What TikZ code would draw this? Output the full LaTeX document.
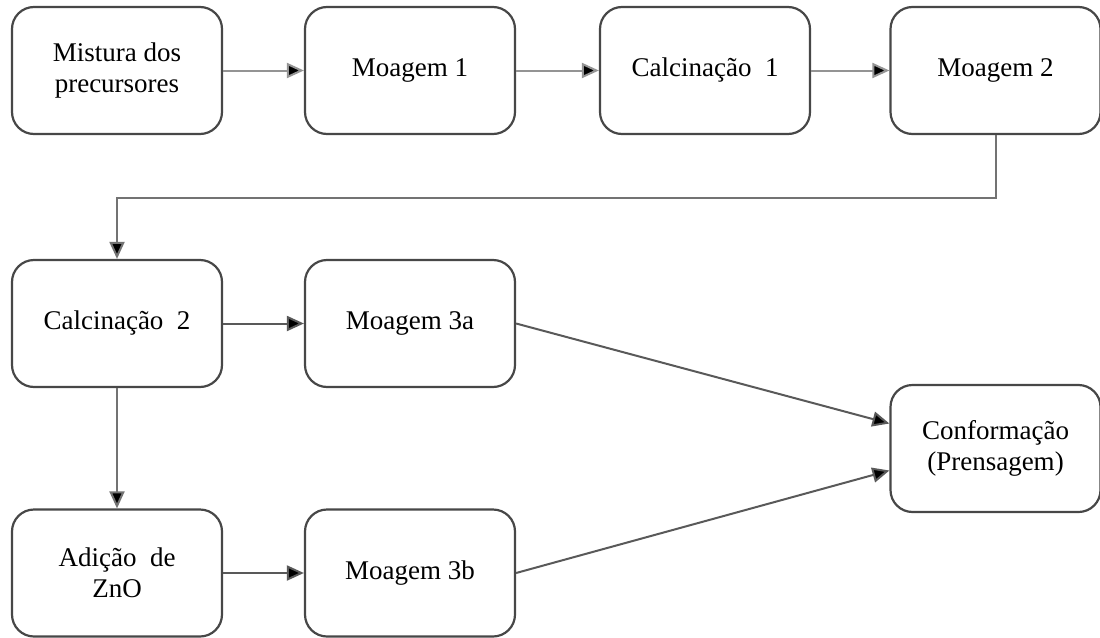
\documentclass[tikz,border=0pt]{standalone}
\usepackage{fontspec}
\setmainfont{Liberation Serif}
\usetikzlibrary{arrows.meta}
\begin{document}
\begin{tikzpicture}[x=1pt,y=-1pt,
  stepbox/.style={draw=black!72, line width=2.2pt, rounded corners=22pt, fill=white,
    minimum width=210pt, minimum height=127pt, align=center, inner sep=0pt,
    font=\fontsize{27}{31}\selectfont},
  flow/.style={draw=black!65, line width=2pt, -{Triangle[length=17pt,width=15pt,fill=black]}},
  flowlight/.style={flow, draw=black!42}
]
\useasboundingbox (0,0) rectangle (1100,637);

% first row
\node[stepbox] (mix) at (117,70.5) {Mistura dos\\precursores};
\node[stepbox] (m1)  at (410,70.5) {Moagem 1};
\node[stepbox] (c1)  at (705,70.5) {Calcina\c{c}\~ao\ \ 1};
\node[stepbox] (m2)  at (995.5,70.5) {Moagem 2};

% second and third rows
\node[stepbox] (c2)  at (117,323.5) {Calcina\c{c}\~ao\ \ 2};
\node[stepbox] (m3a) at (410,323.5) {Moagem 3a};
\node[stepbox] (zn)  at (117,573) {Adi\c{c}\~ao\ \ de\\ZnO};
\node[stepbox] (m3b) at (410,573) {Moagem 3b};
\node[stepbox] (cf)  at (995.5,448.5) {Conforma\c{c}\~ao\\(Prensagem)};

% connectors
\draw[flowlight] (mix) -- (m1);
\draw[flowlight] (m1) -- (c1);
\draw[flowlight] (c1) -- (m2);
\draw[flow, draw=black!55] (m2.south) -- ++(0,63) -| (c2.north);
\draw[flow] (c2) -- (m3a);
\draw[flow, draw=black!55] (c2) -- (zn);
\draw[flow] (zn) -- (m3b);
\draw[flow] (m3a.east) -- ([yshift=25pt]cf.west);
\draw[flow] (m3b.east) -- ([yshift=-22pt]cf.west);
\end{tikzpicture}
\end{document}
